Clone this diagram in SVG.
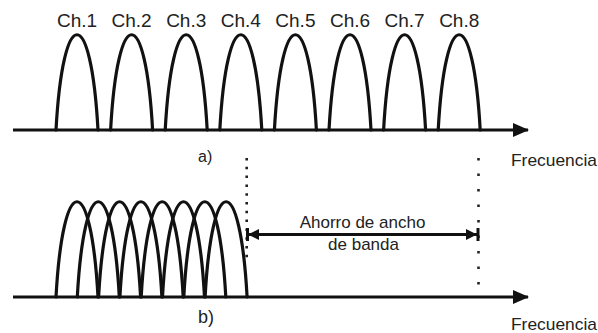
<svg xmlns="http://www.w3.org/2000/svg" xmlns:xlink="http://www.w3.org/1999/xlink" width="598" height="333" viewBox="0 0 598 333">
<style>
.ln{fill:none;stroke:#111;stroke-width:3}
.lobe{fill:none;stroke:#111;stroke-width:3.2;stroke-linecap:round}
.dot{fill:none;stroke:#222;stroke-width:2.6;stroke-linecap:butt}
.t{font-family:"Liberation Sans",Arial,sans-serif;fill:#222}
.ch{font-size:19px;text-anchor:middle}
.lab{font-size:16px}
</style>
<defs>
<path id="lobe" class="lobe" d="M0 0 C 7 -127, 35 -127, 42 0"/>
<marker id="ah" viewBox="0 0 16 16" refX="15" refY="8" markerWidth="16" markerHeight="16" markerUnits="userSpaceOnUse" orient="auto">
<path d="M0 1 L16 8 L0 15 Z" fill="#111"/>
</marker>
<marker id="sh" viewBox="0 0 11 13" refX="11" refY="6.5" markerWidth="11" markerHeight="13" markerUnits="userSpaceOnUse" orient="auto-start-reverse">
<path d="M0 1 L11 6.5 L0 12 Z" fill="#111"/>
</marker>
</defs>

<g id="connectors">
<line class="ln" x1="13" y1="130" x2="528" y2="130" marker-end="url(#ah)"/>
<line class="ln" x1="13" y1="297" x2="528" y2="297" marker-end="url(#ah)"/>
<line class="dot" stroke-dasharray="2.5 6.3" x1="246.7" y1="158" x2="246.7" y2="262"/>
<line class="dot" stroke-dasharray="2.5 13" x1="478.5" y1="158" x2="478.5" y2="290"/>
<line class="ln" stroke-width="2.5" x1="248" y1="234.5" x2="477" y2="234.5" marker-start="url(#sh)" marker-end="url(#sh)"/>
<line class="ln" stroke-width="2" x1="247.5" y1="228" x2="247.5" y2="241"/>
<line class="ln" stroke-width="2" x1="478" y1="228" x2="478" y2="241"/>
</g>

<g id="ch1"><use href="#lobe" x="56" y="130"/><text class="t ch" x="77" y="27">Ch.1</text></g>
<g id="ch2"><use href="#lobe" x="110.6" y="130"/><text class="t ch" x="131.6" y="27">Ch.2</text></g>
<g id="ch3"><use href="#lobe" x="165.2" y="130"/><text class="t ch" x="186.2" y="27">Ch.3</text></g>
<g id="ch4"><use href="#lobe" x="219.8" y="130"/><text class="t ch" x="240.8" y="27">Ch.4</text></g>
<g id="ch5"><use href="#lobe" x="274.4" y="130"/><text class="t ch" x="295.4" y="27">Ch.5</text></g>
<g id="ch6"><use href="#lobe" x="329" y="130"/><text class="t ch" x="350" y="27">Ch.6</text></g>
<g id="ch7"><use href="#lobe" x="383.6" y="130"/><text class="t ch" x="404.6" y="27">Ch.7</text></g>
<g id="ch8"><use href="#lobe" x="438.2" y="130"/><text class="t ch" x="459.2" y="27">Ch.8</text></g>

<g id="ofdm">
<use href="#lobe" x="56" y="297"/>
<use href="#lobe" x="77.3" y="297"/>
<use href="#lobe" x="98.6" y="297"/>
<use href="#lobe" x="119.9" y="297"/>
<use href="#lobe" x="141.2" y="297"/>
<use href="#lobe" x="162.5" y="297"/>
<use href="#lobe" x="183.8" y="297"/>
<use href="#lobe" x="205.1" y="297"/>
</g>

<g id="labels">
<text class="t lab" x="198" y="162">a)</text>
<text class="t" font-size="18" x="198" y="323">b)</text>
<text class="t" font-size="17" x="511" y="166" textLength="86" lengthAdjust="spacingAndGlyphs">Frecuencia</text>
<text class="t" font-size="17" x="511" y="330" textLength="86" lengthAdjust="spacingAndGlyphs">Frecuencia</text>
<text class="t" font-size="17" x="362.5" y="228" text-anchor="middle">Ahorro de ancho</text>
<text class="t" font-size="17" x="363.5" y="250" text-anchor="middle">de banda</text>
</g>
</svg>
